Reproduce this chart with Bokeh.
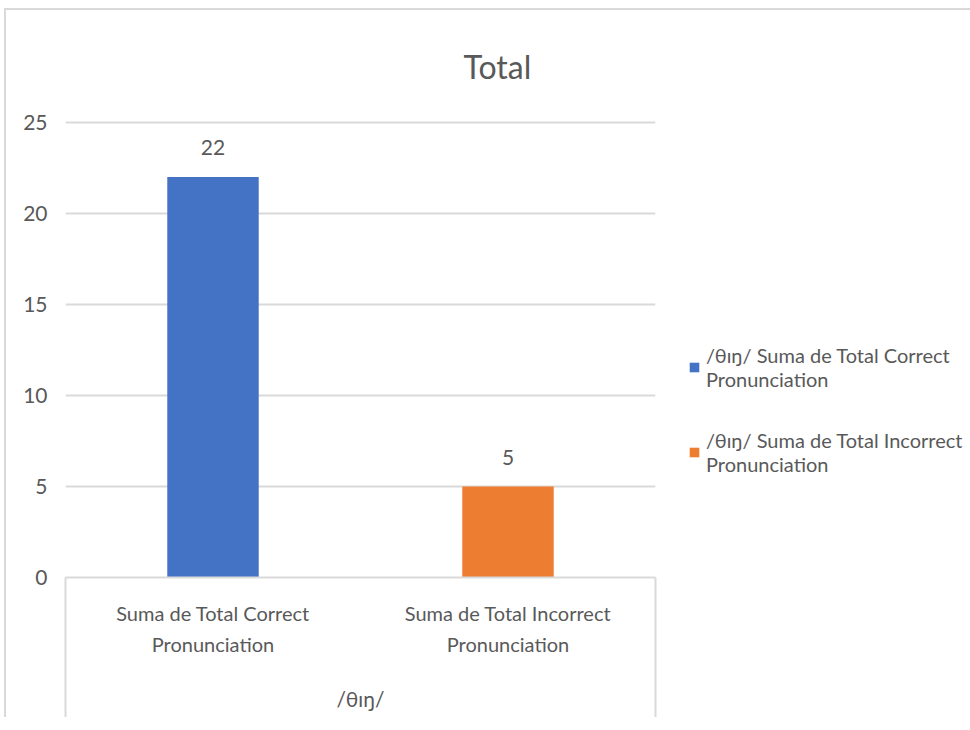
from bokeh.plotting import figure
from bokeh.models import (ColumnDataSource, FactorRange, Range1d, Legend,
                          LegendItem, FixedTicker, LinearAxis)
from bokeh.core.properties import value
from bokeh.embed import file_html
from bokeh.resources import INLINE

title_text = "Total"
group_label = "/θɪŋ/"
categories = ["Suma de Total Correct\nPronunciation",
              "Suma de Total Incorrect\nPronunciation"]
legend_labels = ["/θɪŋ/ Suma de Total Correct\nPronunciation",
                 "/θɪŋ/ Suma de Total Incorrect\nPronunciation"]
values = [22, 5]
colors = ["#4472C4", "#ED7D31"]
y_ticks = [0, 5, 10, 15, 20, 25]

FONT = "Lato"
GRAY = "#595959"
LINE = "#d9d9d9"

p = figure(frame_width=590, frame_height=457,
           x_range=FactorRange(factors=categories),
           y_range=Range1d(0, 25.1), output_backend="svg",
           toolbar_location=None, x_axis_location=None,
           min_border_left=59, min_border_right=300, min_border_top=110,
           min_border_bottom=140)
p.styles = {"margin-left": "4px", "margin-top": "8px",
            "border-left": "2px solid #d9d9d9",
            "border-top": "2px solid #d9d9d9"}
p.outline_line_color = None
p.background_fill_color = "white"
p.border_fill_color = "white"

bars = []
for i in range(len(categories)):
    s = ColumnDataSource(dict(cat=[categories[i]], val=[values[i]],
                              lab=[str(values[i])]))
    r = p.vbar(x="cat", top="val", width=0.31, source=s, color=colors[i],
               line_color=None)
    bars.append(r)
    p.text(x="cat", y="val", text="lab", source=s, text_align="center",
           text_baseline="alphabetic", y_offset=-29, text_color=GRAY,
           text_font=value(FONT), text_font_size="21px")

# title
p.title.text = title_text
p.title.align = "left"
p.title.offset = 398
p.title.standoff = 69
p.title.text_font = FONT
p.title.text_font_size = "32px"
p.title.text_font_style = "normal"
p.title.text_color = GRAY

# y axis
p.yaxis.ticker = FixedTicker(ticks=y_ticks)
p.yaxis.axis_line_color = None
p.yaxis.major_tick_line_color = None
p.yaxis.minor_tick_line_color = None
p.yaxis.major_label_standoff = 12
p.yaxis.major_label_text_font = FONT
p.yaxis.major_label_text_font_size = "21px"
p.yaxis.major_label_text_color = GRAY
p.ygrid.ticker = FixedTicker(ticks=y_ticks)
p.ygrid.grid_line_color = LINE
p.ygrid.grid_line_width = 2
p.xgrid.grid_line_color = None

# x axis: category labels at factor centres, box edges at factor range ends
n = len(categories)
centers = [i + 0.5 for i in range(n)]
overrides = {}
for c, lab in zip(centers, categories):
    overrides[c] = lab
    overrides[str(c)] = lab
EDGE = 150
xaxis = LinearAxis(ticker=FixedTicker(ticks=centers, minor_ticks=[0, n]),
                   major_label_overrides=overrides,
                   axis_line_color=LINE, axis_line_width=2,
                   major_tick_line_color=None, major_tick_in=0,
                   major_tick_out=0,
                   minor_tick_line_color=LINE, minor_tick_line_width=2,
                   minor_tick_in=0, minor_tick_out=EDGE,
                   major_label_standoff=23 - EDGE,
                   major_label_text_font=FONT,
                   major_label_text_font_size="20px",
                   major_label_text_color=GRAY,
                   major_label_text_align="center",
                   major_label_text_line_height=1.3,
                   axis_label=group_label,
                   axis_label_text_font=FONT,
                   axis_label_text_font_size="21px",
                   axis_label_text_font_style="normal",
                   axis_label_text_color=GRAY,
                   axis_label_standoff=27)
p.add_layout(xaxis, "below")

legend = Legend(items=[LegendItem(label=legend_labels[i], renderers=[bars[i]])
                       for i in range(len(bars))],
                location=(33, 101), label_text_font=FONT,
                label_text_font_size="20px", label_text_color=GRAY,
                glyph_width=12, glyph_height=12, border_line_color=None,
                background_fill_alpha=0, padding=0, margin=0, spacing=37,
                label_standoff=6)
p.add_layout(legend, "right")

open("out.html", "w").write(file_html(p, INLINE))
